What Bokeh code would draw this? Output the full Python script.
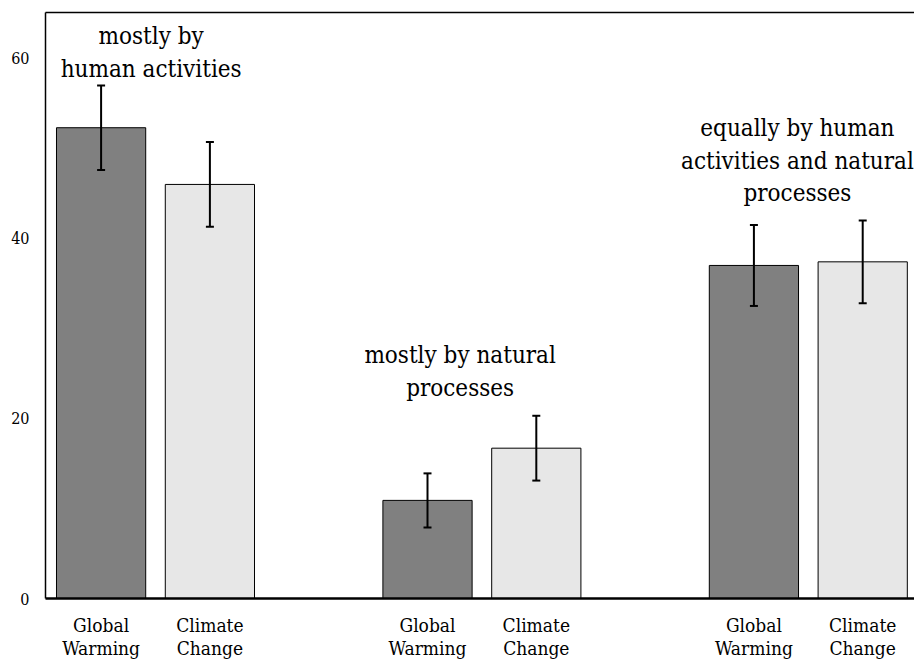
from bokeh.plotting import figure
from bokeh.models import (ColumnDataSource, Whisker, TeeHead, LinearAxis, FixedTicker,
                          Range1d)
from bokeh.core.properties import value
from bokeh.embed import file_html
from bokeh.resources import INLINE

# ---- data ----
groups = ["mostly by\nhuman activities",
          "mostly by natural\nprocesses",
          "equally by human\nactivities and natural\nprocesses"]
terms = ["Global\nWarming", "Climate\nChange"]
gw_vals = [52.3, 10.9, 37.0]
cc_vals = [46.0, 16.7, 37.4]
gw_err = [4.7, 3.0, 4.5]
cc_err = [4.7, 3.6, 4.6]
y_ticks = [0, 20, 40, 60]
# annotation anchors (x centre, top y) in data units
ann_x = [0.46, 3.30, 6.40]
ann_y = [64.0, 28.6, 53.8]

FONT = "'DejaVu Serif Condensed', 'DejaVu Serif'"
GROUP_STEP = 3

xs, tops, lo, hi, colors, labels = [], [], [], [], [], []
for g in range(len(groups)):
    for i, (vals, errs, col) in enumerate([(gw_vals, gw_err, "#808080"),
                                          (cc_vals, cc_err, "#e7e7e7")]):
        xs.append(g * GROUP_STEP + i)
        tops.append(vals[g])
        lo.append(vals[g] - errs[g])
        hi.append(vals[g] + errs[g])
        colors.append(col)
        labels.append(terms[i])

src = ColumnDataSource(dict(x=xs, top=tops, lo=lo, hi=hi, color=colors))

p = figure(width=914, height=661, output_backend="svg", toolbar_location=None,
           x_range=Range1d(-0.511, 7.476), y_range=Range1d(0, 65.1),
           min_border_left=45, min_border_right=0, min_border_top=12,
           min_border_bottom=10)
p.outline_line_color = None
p.grid.visible = False
p.background_fill_color = "white"
p.border_fill_color = "white"

p.vbar(x="x", top="top", width=0.82, bottom=0, fill_color="color",
       line_color="black", line_width=1, source=src)

w = Whisker(base="x", lower="lo", upper="hi", source=src,
            line_color="black", line_width=2, level="overlay",
            upper_head=TeeHead(size=8, line_width=2, line_color="black"),
            lower_head=TeeHead(size=8, line_width=2, line_color="black"))
p.add_layout(w)

p.text(x=ann_x, y=ann_y, text=groups, text_align="center", text_baseline="top",
       text_font=value(FONT), text_font_size="24px", text_color="black",
       text_line_height=1.16)

# y axis
ya = p.yaxis[0]
ya.ticker = FixedTicker(ticks=y_ticks)
ya.major_tick_line_color = None
ya.major_tick_out = 0
ya.major_tick_in = 0
ya.minor_tick_line_color = None
ya.axis_line_color = "black"
ya.axis_line_width = 1.5
ya.major_label_text_font = FONT
ya.major_label_text_font_size = "16px"
ya.major_label_text_color = "black"
ya.major_label_standoff = 16

# x axis
xa = p.xaxis[0]
xa.ticker = FixedTicker(ticks=xs)
xa.major_label_overrides = {x: lab for x, lab in zip(xs, labels)}
xa.major_tick_line_color = None
xa.major_tick_out = 0
xa.major_tick_in = 0
xa.minor_tick_line_color = None
xa.axis_line_color = "black"
xa.axis_line_width = 2.5
xa.major_label_text_font = FONT
xa.major_label_text_font_size = "19px"
xa.major_label_text_line_height = 1.05
xa.major_label_text_color = "black"
xa.major_label_standoff = 15

# top frame line
top_axis = LinearAxis(ticker=FixedTicker(ticks=[]), major_label_text_font_size="0px",
                      major_tick_line_color=None, minor_tick_line_color=None,
                      major_tick_out=0, major_tick_in=0,
                      axis_line_color="black", axis_line_width=1.5)
p.add_layout(top_axis, "above")

open("out.html", "w").write(file_html(p, INLINE))
